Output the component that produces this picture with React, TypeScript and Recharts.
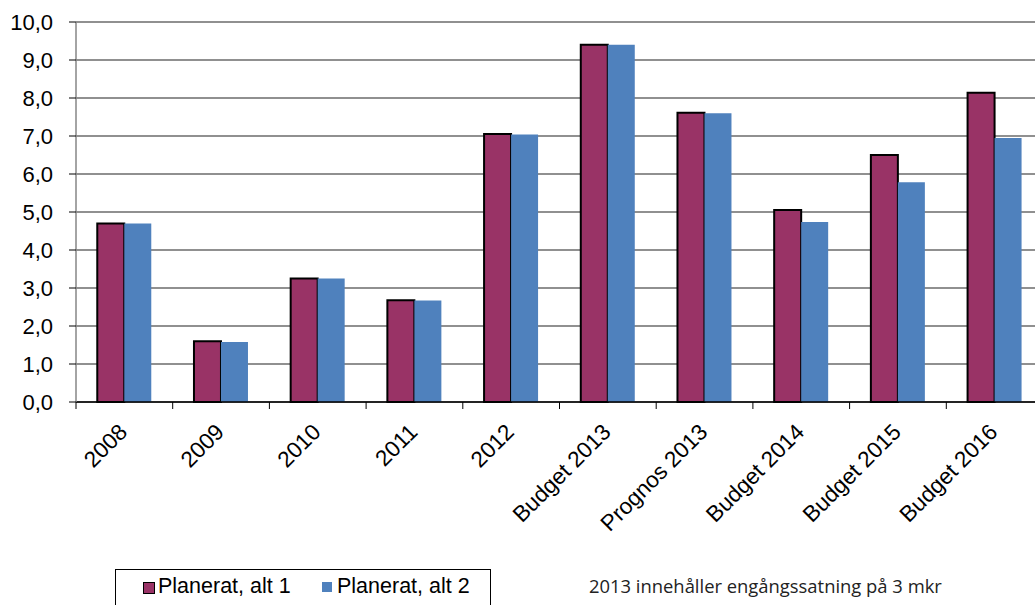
import React from "react";
import { BarChart, Bar, XAxis, YAxis, CartesianGrid } from "recharts";

const categories = [
  "2008",
  "2009",
  "2010",
  "2011",
  "2012",
  "Budget 2013",
  "Prognos 2013",
  "Budget 2014",
  "Budget 2015",
  "Budget 2016",
];
const alt1 = [4.7, 1.6, 3.25, 2.68, 7.05, 9.4, 7.61, 5.05, 6.5, 8.14];
const alt2 = [4.7, 1.58, 3.25, 2.67, 7.04, 9.4, 7.6, 4.74, 5.78, 6.95];
const yTicks = [0, 1, 2, 3, 4, 5, 6, 7, 8, 9, 10];

const MAROON = "#993366";
const BLUE = "#4F81BD";
const FONT = "'Liberation Sans', Arial, sans-serif";

const data = categories.map((name, i) => ({ name, alt1: alt1[i], alt2: alt2[i] }));

function CategoryTick(props: any) {
  const { x, y, payload } = props;
  const off = payload?.offset ?? 48;
  return (
    <g>
      <line x1={x - off} x2={x - off} y1={y} y2={y + 7} stroke="#000" strokeWidth={1} />
      <text
        transform={`translate(${x - 7},${y + 20}) rotate(-45)`}
        textAnchor="end"
        dominantBaseline="hanging"
        fontSize={22.5}
        fontFamily={FONT}
        fill="#000"
      >
        {payload.value}
      </text>
    </g>
  );
}

export default function App() {
  return (
    <div style={{ position: "absolute", left: 0, top: 0, width: 1035, height: 605, overflow: "hidden", background: "#fff" }}>
      <BarChart
        width={1060}
        height={605}
        data={data}
        margin={{ top: 22, right: 17, left: 0, bottom: 0 }}
        barCategoryGap="22%"
        barGap={0}
      >
        <CartesianGrid vertical={false} stroke="#222" strokeWidth={1.2} />
        <XAxis
          dataKey="name"
          interval={0}
          height={203}
          tickLine={false}
          tickSize={0}
          tickMargin={0}
          axisLine={{ stroke: "#000", strokeWidth: 1.5 }}
          tick={<CategoryTick />}
        />
        <YAxis
          width={76}
          domain={[0, 10]}
          ticks={yTicks}
          interval={0}
          tickFormatter={(v: number) => v.toFixed(1).replace(".", ",")}
          tick={{ fontSize: 22, fill: "#000", fontFamily: FONT }}
          tickSize={7}
          tickMargin={16}
          tickLine={{ stroke: "#000" }}
          axisLine={{ stroke: "#868686", strokeWidth: 1.5 }}
        />
        <Bar dataKey="alt1" fill={MAROON} stroke="#000" strokeWidth={2} isAnimationActive={false} />
        <Bar dataKey="alt2" fill={BLUE} isAnimationActive={false} />
      </BarChart>
      <div
        style={{
          position: "absolute",
          left: 115,
          top: 569,
          width: 376,
          height: 40,
          border: "1px solid #000",
          boxSizing: "border-box",
          fontFamily: FONT,
          fontSize: 21.5,
          color: "#000",
        }}
      >
        <span style={{ position: "absolute", left: 27, top: 12, width: 10, height: 10, background: MAROON, border: "1px solid #000" }} />
        <span style={{ position: "absolute", left: 42, top: 4, whiteSpace: "nowrap" }}>Planerat, alt 1</span>
        <span style={{ position: "absolute", left: 206, top: 12, width: 10, height: 10, background: BLUE }} />
        <span style={{ position: "absolute", left: 221, top: 4, whiteSpace: "nowrap" }}>Planerat, alt 2</span>
      </div>
      <div
        style={{
          position: "absolute",
          left: 589,
          top: 573,
          fontFamily: "'Open Sans', 'Noto Sans', sans-serif",
          fontSize: 18.4,
          color: "#222",
          whiteSpace: "nowrap",
        }}
      >
        2013 innehåller engångssatning på 3 mkr
      </div>
    </div>
  );
}
